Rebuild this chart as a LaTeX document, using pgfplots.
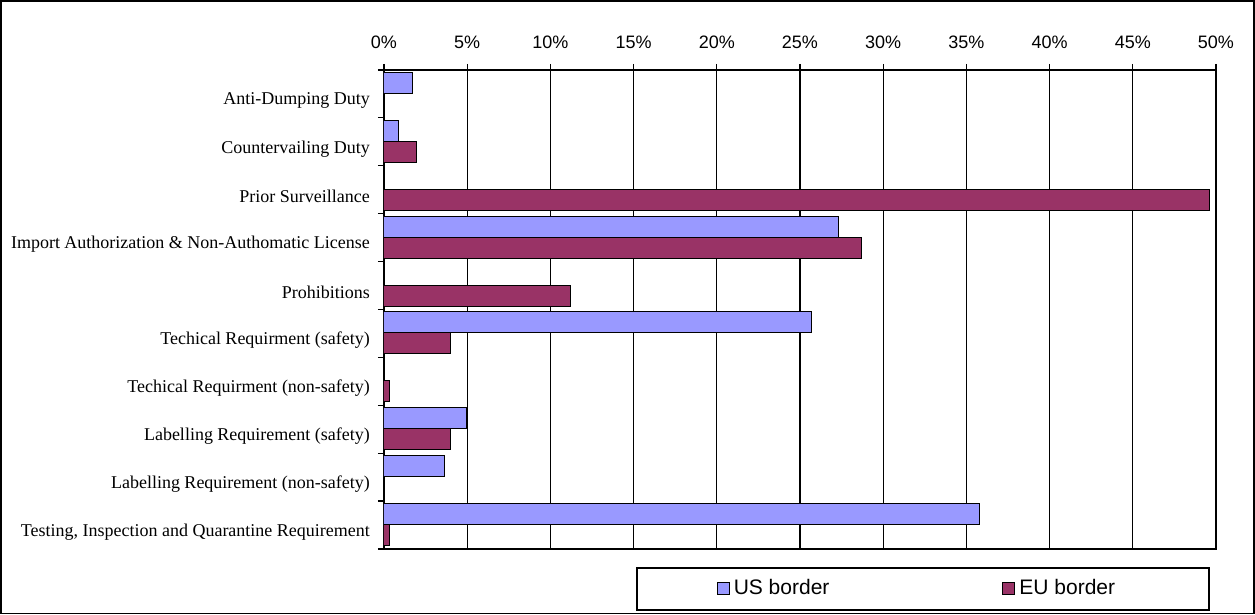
\documentclass[border=0pt]{standalone}
\usepackage{fontspec}
\setmainfont{Liberation Serif}
\newfontfamily\arial{Liberation Sans}
\usepackage{pgfplots}
\pgfplotsset{compat=1.18}
\definecolor{usblue}{HTML}{9999FF}
\definecolor{eured}{HTML}{993366}
\begin{document}
\begin{tikzpicture}[x=1pt,y=1pt]
\path[use as bounding box] (0,0) rectangle (627.5,307.5);
\draw[line width=0.75pt] (0.5,0.75) rectangle (627,307);
\begin{axis}[
    at={(192pt,33pt)}, anchor=south west,
    scale only axis,
    width=416pt, height=239.5pt,
    xbar, bar width=10.5pt,
    xmin=0, xmax=50,
    ymin=-0.5, ymax=9.5,
    xtick={0,5,...,50},
    xticklabel={\pgfmathprintnumber{\tick}\%},
    /pgf/number format/assume math mode=true,
    xtick pos=upper, xticklabel pos=upper,
    ytick pos=left,
    tick align=outside,
    major tick length=3pt,
    xticklabel style={font=\arial\fontsize{9}{10}\selectfont, yshift=4pt},
    % category boundaries carry the tick marks
    ytick={-0.5,0.5,...,9.5},
    yticklabels={},
    % category names sit at the centres, without marks
    extra y ticks={0,...,9},
    extra y tick labels={Testing{,} Inspection and Quarantine Requirement,
        Labelling Requirement (non-safety),
        Labelling Requirement (safety),
        Techical Requirment (non-safety),
        Techical Requirment (safety),
        Prohibitions,
        Import Authorization \& Non-Authomatic License,
        Prior Surveillance,
        Countervailing Duty,
        Anti-Dumping Duty},
    extra y tick style={major tick length=0pt,
        yticklabel style={font=\fontsize{9}{10}\selectfont, xshift=-3.5pt, yshift=-3.5pt}},
    xmajorgrids,
    grid style={black, line width=0.6pt},
    axis line style={line width=1pt},
    every tick/.style={black, line width=0.6pt},
    legend columns=2,
    legend style={at={(0.3029,-0.0376)}, anchor=north west,
        draw=black, line width=0.75pt,
        font=\arial\fontsize{10.5}{12}\selectfont,
        inner xsep=40pt, inner ysep=4pt,
        /tikz/every even column/.append style={column sep=84.5pt}},
    legend image code/.code={\draw[#1, draw=black, line width=0.5pt] (0pt,-3pt) rectangle (6pt,3pt);},
]
\addplot[fill=usblue, draw=black, line width=0.5pt, bar shift=5.5pt]
    coordinates {(1.7,9) (0.86,8) (27.3,6) (25.7,4) (4.95,2) (3.62,1) (35.8,0)};
\addplot[fill=eured, draw=black, line width=0.5pt, bar shift=-5pt]
    coordinates {(1.94,8) (49.6,7) (28.7,6) (11.2,5) (3.97,4) (0.36,3) (3.97,2) (0.36,0)};
\legend{US border, EU border\hspace*{5pt}}
\end{axis}
\end{tikzpicture}
\end{document}
